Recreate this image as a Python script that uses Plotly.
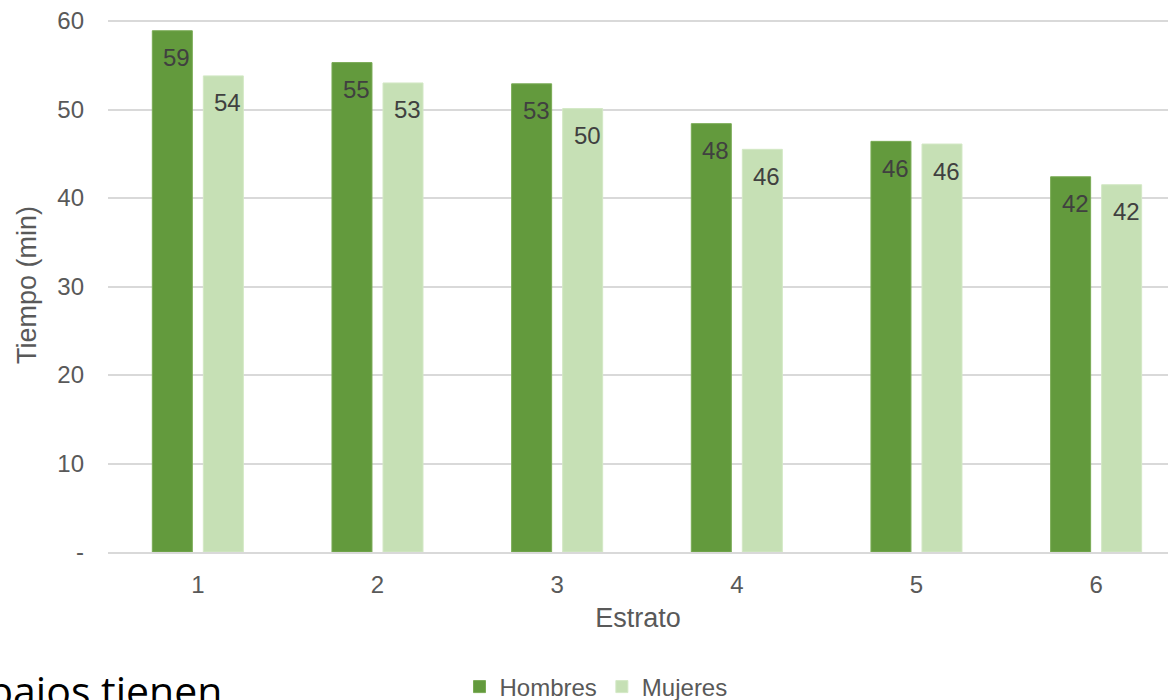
import plotly.graph_objects as go

estratos = ["1", "2", "3", "4", "5", "6"]
hombres = [58.9, 55.3, 52.9, 48.4, 46.4, 42.4]
mujeres = [53.8, 53.0, 50.1, 45.5, 46.1, 41.5]
y_ticks = [0, 10, 20, 30, 40, 50, 60]
y_ticklabels = ["-", "10", "20", "30", "40", "50", "60"]

FONT = "Liberation Sans, Arial, sans-serif"
TICK_COLOR = "#595959"
LABEL_COLOR = "#404040"

fig = go.Figure()
fig.add_trace(go.Bar(
    name="Hombres", x=estratos, y=hombres,
    marker=dict(color="#639a3d", line=dict(color="#7aab55", width=1)),
))
fig.add_trace(go.Bar(
    name="Mujeres", x=estratos, y=mujeres,
    marker=dict(color="#c6e0b5", line=dict(color="#d3e8c5", width=1)),
))

# data labels (inside end, as in the original)
for vals, xs in ((hombres, -21), (mujeres, 30)):
    for i, v in enumerate(vals):
        fig.add_annotation(
            x=i, y=v, xref="x", yref="y", text=str(round(v)),
            showarrow=False, xshift=xs, yshift=-27, yanchor="middle", xanchor="center",
            font=dict(family=FONT, size=24, color=LABEL_COLOR),
        )

fig.update_layout(
    width=1168, height=700,
    margin=dict(l=108, r=0, t=18, b=148, autoexpand=False),
    paper_bgcolor="white", plot_bgcolor="white",
    barmode="group", bargap=0.432, bargroupgap=0.216,
    font=dict(family=FONT, size=24, color=TICK_COLOR),
    showlegend=True,
    legend=dict(orientation="h", x=(596 - 108) / 1060, xanchor="center", y=(552 - 687) / 534, yanchor="middle",
                font=dict(family=FONT, size=24, color=TICK_COLOR),
                itemwidth=30, tracegroupgap=0, traceorder="normal"),
    xaxis=dict(
        type="category", range=[-0.5, 5.4], automargin=False,
        showgrid=False, showline=True, linecolor="#d9d9d9", linewidth=1.5,
        ticks="", tickfont=dict(family=FONT, size=24, color=TICK_COLOR), ticklabelstandoff=10,
        title=dict(text="Estrato", font=dict(family=FONT, size=27, color=TICK_COLOR), standoff=12),
    ),
    yaxis=dict(
        range=[0, 60.34], tickvals=y_ticks, ticktext=y_ticklabels, automargin=False,
        showgrid=True, gridcolor="#d9d9d9", gridwidth=1.5,
        zeroline=False, showline=False, ticks="",
        tickfont=dict(family=FONT, size=24, color=TICK_COLOR), ticklabelstandoff=23,
        title=dict(text="Tiempo (min)", font=dict(family=FONT, size=27, color=TICK_COLOR), standoff=12),
    ),
)

fig.add_annotation(
    text="bajos tienen", xref="paper", yref="paper",
    x=(-14 - 108) / 1060, y=(552 - 660) / 534, xanchor="left", yanchor="top",
    showarrow=False, font=dict(family="Open Sans, Noto Sans, sans-serif", size=41, color="#000000"),
)

fig.write_html(
    "out.html",
    config={"displayModeBar": False},
    post_script="document.body.style.margin='0';document.body.style.overflow='hidden';",
)
